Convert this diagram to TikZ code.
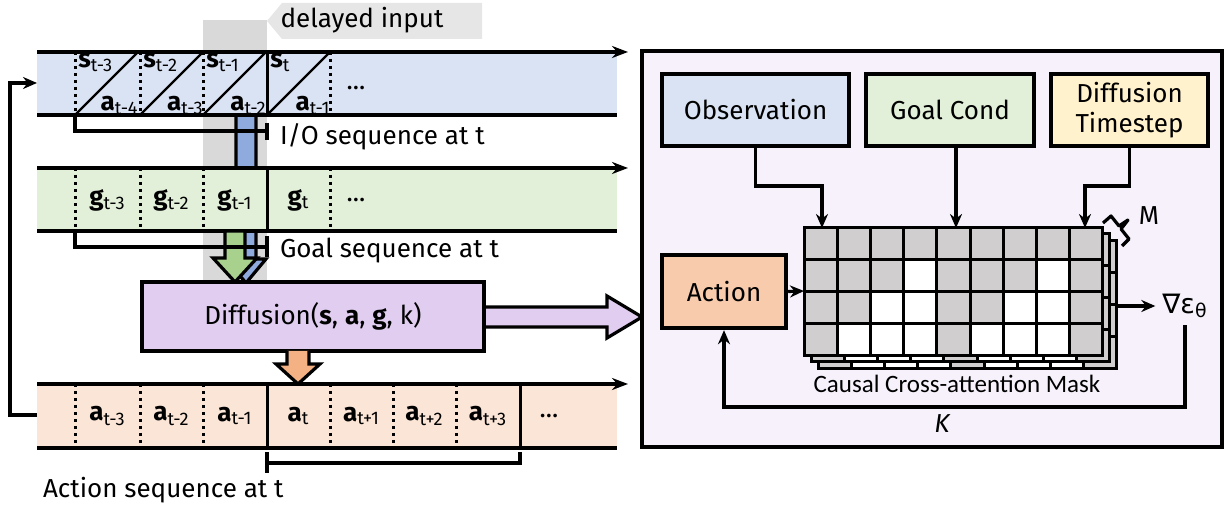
\documentclass[tikz,border=0pt]{standalone}
\usepackage{fontspec}
\setmainfont{Fira Sans}
\newfontfamily\capfont{Carlito}
\newfontfamily\gradfont{DejaVu Sans}
\usepackage{tikz}
\usetikzlibrary{arrows.meta, calc, positioning}
\usepackage{xcolor}

\definecolor{obsblue}{HTML}{DAE3F3}
\definecolor{goalgreen}{HTML}{E2F0D9}
\definecolor{actpeach}{HTML}{FBE5D6}
\definecolor{difpurple}{HTML}{E0CDF0}
\definecolor{panelbg}{HTML}{F6F1FB}
\definecolor{actorange}{HTML}{F8CBAD}
\definecolor{stepyellow}{HTML}{FFF2CC}
\definecolor{maskgray}{HTML}{D0CECE}
\definecolor{stripgray}{HTML}{D9D9D9}
\definecolor{taggray}{HTML}{E7E6E6}
\definecolor{arrgreen}{HTML}{A9D18E}
\definecolor{arrblue}{HTML}{8FAADC}
\definecolor{arrorange}{HTML}{F4B183}

\tikzset{
  rowline/.style={line width=2pt},
  cellsep/.style={line width=1.5pt, dotted},
  inbox/.style={draw, line width=2.2pt, align=center, inner sep=2pt},
  tok/.style={inner sep=1pt},
  blockarrow/.style={draw, line width=1.6pt},
  bracket/.style={line width=1.8pt},
  conn/.style={line width=1.6pt, -{Stealth[length=7pt, width=6pt]}}
}

\begin{document}
\begin{tikzpicture}[x=0.5pt, y=-0.5pt, font=\fontsize{13}{15}\selectfont]
    \useasboundingbox (0,0) rectangle (1225,506);

    % delayed input strip and tag
    \fill[stripgray] (203,20) rectangle (267,283);
    \fill[taggray] (267,21) -- (282,3) -- (482,3) -- (482,39) -- (282,39) -- cycle;
    \node (delay) at (362,20) {delayed input};

    % blue arrow from I/O sequence
    \filldraw[blockarrow, fill=arrblue] (236,115) -- (236,259) -- (226,259) -- (246,283)
        -- (266,259) -- (256,259) -- (256,115) -- cycle;

    % rows
    \foreach \ya/\yb/\col in {52/115/obsblue, 168/231/goalgreen, 384/448/actpeach} {
        \fill[\col] (37,\ya) rectangle (617,\yb);
        \draw[rowline, -{Stealth[length=8pt, width=6pt]}] (37,\ya) -- (628,\ya);
        \draw[rowline] (37,\yb) -- (617,\yb);
    }

    % I/O sequence row
    \foreach \x in {75, 140, 203, 330}
        \draw[cellsep] (\x,52) -- (\x,115);
    \draw[line width=1.5pt] (267,52) -- (267,115);
    \foreach \i/\x/\s/\a in {1/75/t-3/t-4, 2/140/t-2/t-3, 3/203/t-1/t-2, 4/267/t/t-1} {
        \draw[line width=1.1pt] (\x,115) -- (\x+63,52);
        \node[tok, anchor=north west] (s\i) at (\x+1,51) {{\bfseries s}\textsubscript{\s}};
        \node[tok, anchor=south east] (a\i) at (\x+66,117) {{\bfseries a}\textsubscript{\a}};
    }
    \node (iodots) at (356,88) {...};

    % goal row
    \foreach \x in {75, 140, 203, 330}
        \draw[cellsep] (\x,168) -- (\x,231);
    \draw[line width=1.5pt] (267,168) -- (267,231);
    \foreach \i/\x/\g in {1/107.5/t-3, 2/171.5/t-2, 3/235/t-1, 4/298.5/t}
        \node[tok] (g\i) at (\x,200) {{\bfseries g}\textsubscript{\g}};
    \node (gdots) at (356,200) {...};

    % green arrow
    \filldraw[blockarrow, fill=arrgreen] (225,231) -- (225,258) -- (213,258) -- (235,282)
        -- (257,258) -- (245,258) -- (245,231) -- cycle;

    % brackets
    \draw[bracket] (75,115) |- (267,131);
    \draw[bracket] (267,123) -- (267,140);
    \node[anchor=west] (iolab) at (273,137) {I/O sequence at t};
    \draw[bracket] (75,231) |- (267,247);
    \draw[bracket] (267,236) -- (267,257);
    \node[anchor=west] (goallab) at (273,251) {Goal sequence at t};

    % diffusion model
    \node[inbox, fill=difpurple, minimum width=171pt, minimum height=34.5pt] (diff) at (313,316.5)
        {Diffusion({\bfseries s}, {\bfseries a}, {\bfseries g}, k)};
    \filldraw[blockarrow, fill=difpurple] (diff.east |- 0,307) -- (607,307) -- (607,296) -- (642,317)
        -- (607,338) -- (607,327) -- (diff.east |- 0,327);
    \filldraw[blockarrow, fill=arrorange] (287,351) -- (287,364) -- (276,364) -- (298,384)
        -- (320,364) -- (309,364) -- (309,351);

    % action row
    \foreach \x in {75, 140, 203, 330, 393, 456}
        \draw[cellsep] (\x,384) -- (\x,448);
    \foreach \x in {267, 520}
        \draw[line width=1.5pt] (\x,384) -- (\x,448);
    \foreach \i/\x/\t in {1/107.5/t-3, 2/171.5/t-2, 3/235/t-1, 4/298.5/t, 5/361.5/t+1, 6/424.5/t+2, 7/488/t+3}
        \node[tok] (act\i) at (\x,416) {{\bfseries a}\textsubscript{\t}};
    \node (adots) at (549,416) {...};
    \draw[bracket] (267,473) -- (267,452);
    \draw[bracket] (267,463) -| (520,452);
    \node[anchor=west] (actlab) at (36,490) {Action sequence at t};

    % feedback to input
    \coordinate (fbout) at (37,415);
    \coordinate (fbin) at (37,83);
    \draw[conn] (fbout) -- ++(-27,0) |- (fbin);

    % right panel
    \filldraw[fill=panelbg, line width=2.2pt] (642,51) rectangle (1222,447);
    \node[inbox, fill=obsblue, minimum width=93.5pt, minimum height=36pt] (obs) at (755.5,110) {Observation};
    \node[inbox, fill=goalgreen, minimum width=84pt, minimum height=36pt] (gc) at (950,110) {Goal Cond};
    \node[inbox, fill=stepyellow, minimum width=78.5pt, minimum height=36pt] (ts) at (1129.5,110) {Diffusion\\Timestep};
    \node[inbox, fill=actorange, minimum width=62pt, minimum height=36.5pt] (act) at (724,291.5) {Action};

    % causal cross-attention mask (3 layers)
    \foreach \dx/\dy in {14/13, 7/6, 0/0} {
        \foreach \c in {1,...,9} {
            \foreach \r in {1,...,4} {
                \pgfmathtruncatemacro\w{(mod(\c-1,4)+\r)>=5}
                \ifnum\w=1 \def\cellcol{white}\else \def\cellcol{maskgray}\fi
                \filldraw[fill=\cellcol, line width=1.5pt]
                    ({804+\dx+(\c-1)*33.22},{228+\dy+(\r-1)*32}) rectangle ++(33.22,32);
            }
        }
    }
    \node[font=\capfont\fontsize{12.5}{14}\selectfont] (mask) at (957,384) {Causal Cross-attention Mask};

    \coordinate (gin1) at (822,228);
    \coordinate (gin2) at (956,228);
    \coordinate (gin3) at (1085,228);
    \coordinate (gin4) at (804,291);
    \coordinate (gout) at (1117,306);

    \draw[conn] (obs.south) -- (obs.south |- 0,186) -| (gin1);
    \draw[conn] (gc.south -| gin2) -- (gin2);
    \draw[conn] (ts.south) -- (ts.south |- 0,186) -| (gin3);
    \draw[conn] (act.east) -- (gin4);

    % M layers
    \draw[line width=1.6pt, line join=round] (1103,223) -- (1111,216) -- (1119,226) -- (1128,220)
        -- (1121,229) -- (1129,239) -- (1122,246);
    \node (mlab) at (1149,216) {M};

    % output and loop
    \node[font=\gradfont\fontsize{13.5}{15}\selectfont] (grad) at (1185,306) {∇ε\textsubscript{θ}};
    \draw[conn] (gout) -- (grad.west);
    \draw[conn] (grad.south) -- (grad.south |- 0,407) -| (act.south);
    \node[font=\fontsize{13}{15}\selectfont\itshape] (klab) at (942,424) {K};
\end{tikzpicture}
\end{document}
